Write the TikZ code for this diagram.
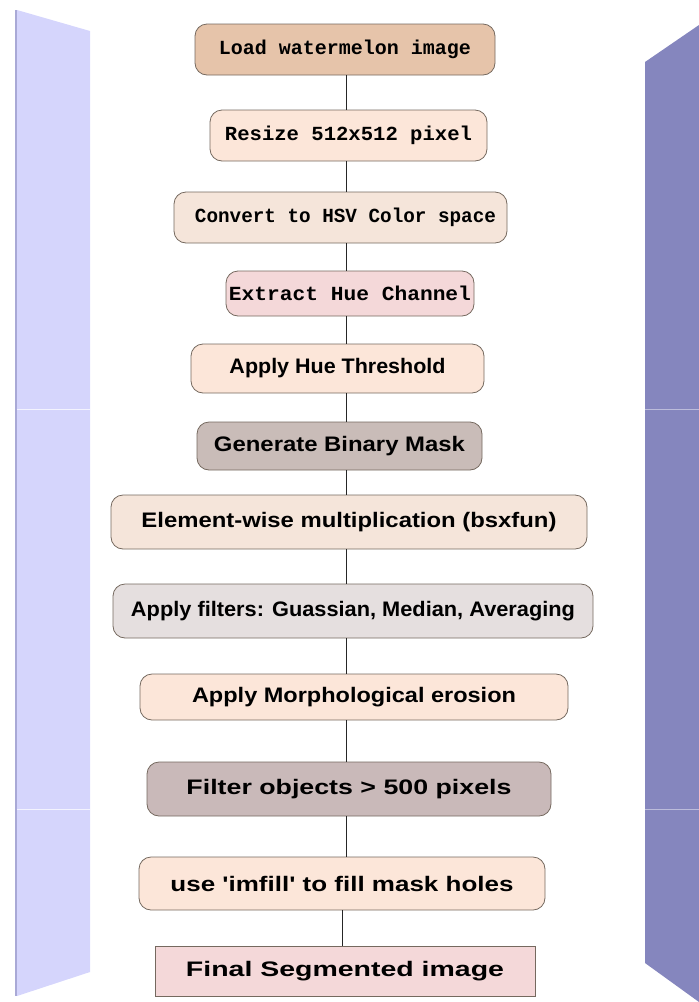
\documentclass[tikz,border=0pt]{standalone}
\usepackage{fontspec}
\usepackage{graphicx}
\setmainfont{Liberation Sans}
\setsansfont{Liberation Sans}
\setmonofont{Liberation Mono}
\definecolor{panelL}{HTML}{D5D5FC}
\definecolor{panelLs}{HTML}{A9A9D6}
\definecolor{panelR}{HTML}{8586BE}
\definecolor{boxline}{HTML}{75695F}
\definecolor{cTan}{HTML}{E6C4AA}
\definecolor{cPeach}{HTML}{FCE6D9}
\definecolor{cBeige}{HTML}{F5E5DA}
\definecolor{cPink}{HTML}{F4D8D9}
\definecolor{cGrayA}{HTML}{C9BCB8}
\definecolor{cGrayB}{HTML}{E5DFDF}
\definecolor{cGrayC}{HTML}{C9B9B9}
\newcommand\fitto[2]{\resizebox{#1pt}{\height}{#2}}
\tikzset{
  stepbox/.style={draw=boxline, line width=0.8pt, rounded corners=12pt, inner sep=0pt, align=center},
  monotext/.style={font=\ttfamily\bfseries\fontsize{20}{22}\selectfont},
  sanstext/.style={font=\sffamily\bfseries\fontsize{21}{24}\selectfont},
  link/.style={draw=black!85, line width=0.7pt},
  seam/.style={line width=0.6pt}
}
\begin{document}
\begin{tikzpicture}[x=1pt,y=-1pt]
\useasboundingbox (0,0) rectangle (699,1002);
% side panels
\fill[panelLs] (15,10) -- (18,10) -- (18,996) -- (15,996) -- cycle;
\fill[panelL] (17,10) -- (90,31) -- (90,972) -- (17,996) -- cycle;
\fill[panelR] (645,62) -- (699,25) -- (699,1002) -- (645,963) -- cycle;
\draw[seam, white!70!panelL] (17,409) -- (90,409);
\draw[seam, white!70!panelL] (17,809) -- (90,809);
\draw[seam, white!45!panelR] (645,409) -- (699,409);
\draw[seam, white!45!panelR] (645,809) -- (699,809);
\coordinate (spine) at (346,0);
\coordinate (spineb) at (342,0);
% boxes
\node[stepbox, monotext, fill=cTan, minimum width=300pt, minimum height=51pt] (b1) at (345,49.5) {\fitto{252}{Load watermelon image}};
\node[stepbox, monotext, fill=cPeach, minimum width=277pt, minimum height=51pt] (b2) at (348.5,135.5) {\fitto{247}{Resize 512x512 pixel}};
\node[stepbox, monotext, fill=cBeige, minimum width=333pt, minimum height=51pt] (b3) at (340.5,217.5) {\hspace{10pt}\fitto{301}{Convert to HSV Color space}};
\node[stepbox, monotext, fill=cPink, minimum width=248pt, minimum height=45pt] (b4) at (350,293.5) {\fitto{242}{Extract Hue Channel}};
\node[stepbox, sanstext, fill=cPeach, minimum width=293pt, minimum height=49pt] (b5) at (337.5,368.5) {\fitto{216}{Apply Hue Threshold}};
\node[stepbox, sanstext, fill=cGrayA, minimum width=285pt, minimum height=48pt] (b6) at (339.5,446) {\fitto{251}{Generate Binary Mask}};
\node[stepbox, sanstext, fill=cBeige, minimum width=476pt, minimum height=54pt] (b7) at (349,522) {\fitto{415}{Element-wise multiplication (bsxfun)}};
\node[stepbox, sanstext, fill=cGrayB, minimum width=480pt, minimum height=54pt] (b8) at (353,611) {\fitto{444}{Apply filters: Guassian, Median, Averaging}};
\node[stepbox, sanstext, fill=cPeach, minimum width=428pt, minimum height=46pt] (b9) at (354,697) {\fitto{324}{Apply Morphological erosion}};
\node[stepbox, sanstext, fill=cGrayC, minimum width=404pt, minimum height=54pt] (b10) at (349,789) {\fitto{325}{Filter objects > 500 pixels}};
\node[stepbox, sanstext, fill=cPeach, minimum width=406pt, minimum height=53pt] (b11) at (342,883.5) {\fitto{343}{use \textquotesingle imfill\textquotesingle{} to fill mask holes}};
\node[stepbox, sanstext, fill=cPink, rounded corners=0pt, minimum width=380pt, minimum height=50pt] (b12) at (345,971) {\fitto{318}{Final Segmented image}};
% connectors
\foreach \a/\b in {b1/b2,b2/b3,b3/b4,b4/b5,b5/b6,b6/b7,b7/b8,b8/b9,b9/b10,b10/b11}
  \draw[link] (\a.south -| spine) -- (\b.north -| spine);
\draw[link] (b11.south -| spineb) -- (b12.north -| spineb);
\end{tikzpicture}
\end{document}
